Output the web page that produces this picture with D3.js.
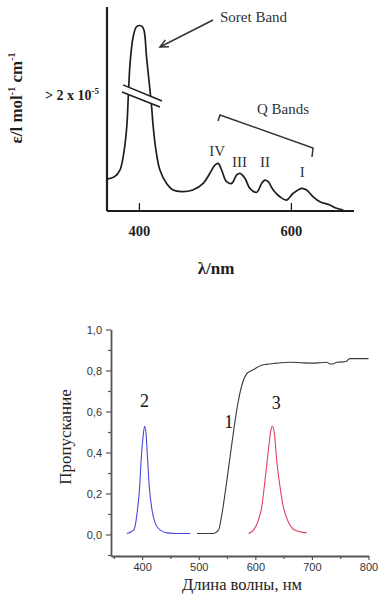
<!DOCTYPE html>
<html><head><meta charset="utf-8">
<script src="https://cdn.jsdelivr.net/npm/d3@7"></script>
<style>html,body{margin:0;padding:0;background:#fff;}svg{display:block;}</style>
</head><body>
<svg id="c" width="384" height="606"></svg>
<script>
// ---------- Top chart data (porphyrin absorption spectrum, relative units) ----------
const absWavelength = [358,368,375,380,384,386,388,390,392.5,397,403.5,406.6,410,413.6,416.7,418.8,422.4,427.6,436.4,445,456,471,484.6,493.4,500,504.3,508.8,515.4,522,528.6,532.9,539.5,546,554.9,561.4,565.8,570.1,576.7,585.5,594.3,603,614,620.7,629.3,638.2,651.3,660.1,668.8];
const absValue = [15.5,16.7,19.9,28,40.9,55.5,70,78.2,84.6,89.5,89.8,87.9,74.9,62,50.6,40.9,29.6,19.9,13.4,10.2,9.4,10.2,13.4,18.3,22.3,23.1,19.9,14.2,13.4,17.5,18.3,15.9,11,9.1,13.4,15,14.2,10.2,6.9,5.3,8.6,11,10.2,6.9,4.5,2.9,1.3,0.5];
const topXTicks = [400, 600];
const qBandNames = ["IV","III","II","I"];
const qBandPos = [[503,26.5],[532.5,21.5],[566,21.5],[615,16.5]]; // label anchor (nm, value)

// ---------- Bottom chart data (transmission) ----------
const filterWl = [497,526,535,541,549.8,558.6,564.4,570.3,576.2,580,585,590,596.7,605,611.4,620,632,646,661.4,680,702.5,715,726,732,737,743.8,755,761.4,764,767.2,780,800];
const filterT  = [0.005,0.005,0.021,0.10,0.265,0.444,0.558,0.655,0.728,0.760,0.785,0.795,0.805,0.818,0.826,0.830,0.834,0.838,0.840,0.838,0.836,0.838,0.840,0.832,0.832,0.840,0.842,0.845,0.853,0.858,0.858,0.858];
const blueWl = [373,385,391,395.6,398.6,401.6,404.4,406.9,409.7,412.7,417.5,423.3,432,444,461.6,485];
const blueT  = [0.005,0.021,0.102,0.232,0.379,0.476,0.528,0.493,0.362,0.232,0.119,0.054,0.021,0.008,0.005,0.005];
const redWl = [588,596.7,605.5,611.4,617.2,623.1,627.2,630.2,633.7,637.8,643.7,649.5,658.4,670.2,690.8];
const redT  = [0.005,0.021,0.07,0.135,0.265,0.411,0.504,0.528,0.493,0.362,0.232,0.135,0.061,0.021,0.008];
const botXTicks = [400,500,600,700,800];
const botYTicks = [0,0.2,0.4,0.6,0.8,1.0];
const curveLabels = [["2",404,0.62],["1",553,0.52],["3",637,0.61]];

const svg = d3.select("#c");

// ================= TOP CHART =================
const xT = d3.scaleLinear().domain([358, 683]).range([107, 354]);
const yT = d3.scaleLinear().domain([0, 100]).range([211, 5]);
const gT = svg.append("g");
const ink = "#1e1e1e";

// curve
gT.append("path")
  .datum(absWavelength.map((w,i)=>[w, absValue[i]]))
  .attr("fill","none").attr("stroke",ink).attr("stroke-width",1.7)
  .attr("d", d3.line().x(d=>xT(d[0])).y(d=>yT(d[1])).curve(d3.curveCatmullRom.alpha(0.5)));

// axis break on the Soret band
const brk = [[379.1,61.2],[430.4,53.4],[427.7,50.5],[377.7,57.8]];
gT.append("path").attr("fill","#fff").attr("stroke","none")
  .attr("d", d3.line().x(d=>xT(d[0])).y(d=>yT(d[1]))(brk)+"Z");
gT.append("line").attr("x1",xT(brk[0][0])).attr("y1",yT(brk[0][1])).attr("x2",xT(brk[1][0])).attr("y2",yT(brk[1][1])).attr("stroke",ink).attr("stroke-width",1.5);
gT.append("line").attr("x1",xT(brk[3][0])).attr("y1",yT(brk[3][1])).attr("x2",xT(brk[2][0])).attr("y2",yT(brk[2][1])).attr("stroke",ink).attr("stroke-width",1.5);

// axes
gT.append("line").attr("x1",xT(358)).attr("x2",xT(358)).attr("y1",yT(0)).attr("y2",yT(99)).attr("stroke",ink).attr("stroke-width",2.2);
gT.append("line").attr("x1",xT(358)).attr("x2",xT(683)).attr("y1",yT(0)).attr("y2",yT(0)).attr("stroke",ink).attr("stroke-width",2.2);
const axT = d3.axisBottom(xT).tickValues(topXTicks).tickSizeInner(-8).tickSizeOuter(0).tickPadding(15);
const gax = gT.append("g").attr("transform",`translate(0,${yT(0)})`).call(axT);
gax.select(".domain").remove();
gax.selectAll(".tick line").attr("stroke",ink).attr("stroke-width",1.3);
gax.selectAll(".tick text").attr("font-family","Liberation Serif, Times New Roman, serif").attr("font-weight","bold").attr("font-size",14.5).attr("fill",ink);

// axis titles
gT.append("text").attr("x",216).attr("y",274).attr("text-anchor","middle")
  .attr("font-family","Liberation Serif, serif").attr("font-weight","bold").attr("font-size",17).attr("fill",ink).text("λ/nm");
const yl = gT.append("text").attr("transform","translate(22,98) rotate(-90)").attr("text-anchor","middle")
  .attr("font-family","Liberation Serif, serif").attr("font-weight","bold").attr("font-size",17).attr("fill",ink);
yl.append("tspan").text("ε/l mol");
yl.append("tspan").attr("font-size",10).attr("dy",-7).text("-1");
yl.append("tspan").attr("dy",7).text(" cm");
yl.append("tspan").attr("font-size",10).attr("dy",-7).text("-1");

const brkLbl = gT.append("text").attr("x",45).attr("y",100)
  .attr("font-family","Liberation Serif, serif").attr("font-weight","bold").attr("font-size",14).attr("fill",ink);
brkLbl.append("tspan").text("> 2 x 10");
brkLbl.append("tspan").attr("font-size",9).attr("dy",-6).text("-5");

// Soret annotation
gT.append("text").attr("x",220).attr("y",22).attr("font-family","Liberation Serif, serif").attr("font-size",15).attr("fill","#333").text("Soret Band");
const aS = [xT(497.5), yT(92.7)], aE = [xT(427.7), yT(79.6)];
gT.append("line").attr("x1",aS[0]).attr("y1",aS[1]).attr("x2",aE[0]).attr("y2",aE[1]).attr("stroke","#333").attr("stroke-width",1.5);
{
  const ang = Math.atan2(aE[1]-aS[1], aE[0]-aS[0]);
  const L = 9, spread = 0.45;
  const p1 = [aE[0]-L*Math.cos(ang-spread), aE[1]-L*Math.sin(ang-spread)];
  const p2 = [aE[0]-L*Math.cos(ang+spread), aE[1]-L*Math.sin(ang+spread)];
  gT.append("path").attr("d",`M${p1}L${aE}L${p2}`).attr("fill","none").attr("stroke","#333").attr("stroke-width",1.5);
}

// Q bands bracket
gT.append("text").attr("x",257).attr("y",114).attr("font-family","Liberation Serif, serif").attr("font-size",15).attr("fill","#333").text("Q Bands");
const bracket = [[504.1,43.7],[506.7,46.6],[629.1,30.6],[627.7,26.2]];
gT.append("path").attr("fill","none").attr("stroke","#333").attr("stroke-width",1.5)
  .attr("d", d3.line().x(d=>xT(d[0])).y(d=>yT(d[1]))(bracket));
gT.selectAll("text.q").data(qBandNames).join("text").attr("class","q")
  .attr("x",(d,i)=>xT(qBandPos[i][0])).attr("y",(d,i)=>yT(qBandPos[i][1])).attr("text-anchor","middle")
  .attr("font-family","Liberation Serif, serif").attr("font-size",15).attr("fill","#333").text(d=>d);

// ================= BOTTOM CHART =================
const xB = d3.scaleLinear().domain([345, 800]).range([111, 368.5]);
const yB = d3.scaleLinear().domain([-0.105, 1.0]).range([556, 329.5]);
const gB = svg.append("g");
const axc = "#555";

const lineB = d3.line().x(d=>xB(d[0])).y(d=>yB(d[1])).curve(d3.curveMonotoneX);
gB.append("path").datum(blueWl.map((w,i)=>[w,blueT[i]])).attr("fill","none").attr("stroke","#4a4ad6").attr("stroke-width",1.1).attr("d",lineB);
gB.append("path").datum(redWl.map((w,i)=>[w,redT[i]])).attr("fill","none").attr("stroke","#e0405e").attr("stroke-width",1.1).attr("d",lineB);
gB.append("path").datum(filterWl.map((w,i)=>[w,filterT[i]])).attr("fill","none").attr("stroke","#3a3a3a").attr("stroke-width",1.1).attr("d",lineB);

// x axis
const minorX = d3.range(350, 801, 50).filter(v=>!botXTicks.includes(v));
const gxm = gB.append("g").attr("transform",`translate(0,${yB(-0.105)})`)
  .call(d3.axisBottom(xB).tickValues(minorX).tickSize(3).tickFormat(""));
gxm.select(".domain").remove();
gxm.selectAll("line").attr("stroke",axc).attr("stroke-width",1.2);
const gx = gB.append("g").attr("transform",`translate(0,${yB(-0.105)})`)
  .call(d3.axisBottom(xB).tickValues(botXTicks).tickSizeInner(4).tickSizeOuter(0).tickPadding(3));
gx.select(".domain").attr("stroke",axc).attr("stroke-width",1.8);
gx.selectAll(".tick line").attr("stroke",axc).attr("stroke-width",1.2);
gx.selectAll(".tick text").attr("font-family","Liberation Sans, Arial, sans-serif").attr("font-size",11).attr("fill","#333");

// y axis
const minorY = [0.1,0.3,0.5,0.7,0.9,-0.1];
const gym = gB.append("g").attr("transform",`translate(${xB(345)},0)`)
  .call(d3.axisLeft(yB).tickValues(minorY).tickSize(3).tickFormat(""));
gym.select(".domain").remove();
gym.selectAll("line").attr("stroke",axc).attr("stroke-width",1.2);
const gy = gB.append("g").attr("transform",`translate(${xB(345)},0)`)
  .call(d3.axisLeft(yB).tickValues(botYTicks).tickSizeInner(5).tickSizeOuter(0).tickPadding(4)
    .tickFormat(d=>d3.format(".1f")(d).replace(".",",")));
gy.select(".domain").attr("stroke",axc).attr("stroke-width",1.8);
gy.selectAll(".tick line").attr("stroke",axc).attr("stroke-width",1.2);
gy.selectAll(".tick text").attr("font-family","Liberation Sans, Arial, sans-serif").attr("font-size",11).attr("fill","#333");

// titles
gB.append("text").attr("x",242).attr("y",590).attr("text-anchor","middle")
  .attr("font-family","Liberation Serif, serif").attr("font-size",16.5).attr("fill","#222").text("Длина волны, нм");
gB.append("text").attr("transform","translate(71,437) rotate(-90)").attr("text-anchor","middle")
  .attr("font-family","Liberation Serif, serif").attr("font-size",17).attr("fill","#222").text("Пропускание");

// curve labels
gB.selectAll("text.cl").data(curveLabels).join("text").attr("class","cl")
  .attr("x",d=>xB(d[1])).attr("y",d=>yB(d[2])).attr("text-anchor","middle")
  .attr("font-family","Liberation Serif, serif").attr("font-size",18).attr("fill","#111").text(d=>d[0]);
</script>
</body></html>
